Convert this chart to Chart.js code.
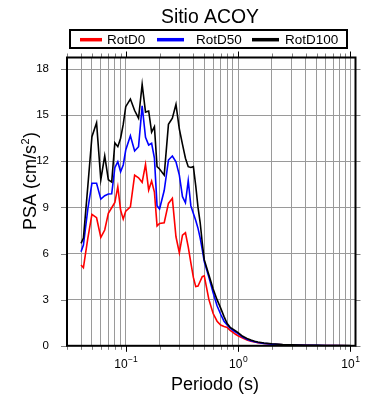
<!DOCTYPE html>
<html><head><meta charset="utf-8">
<script src="https://cdn.jsdelivr.net/npm/chart.js@4.4.1/dist/chart.umd.min.js"></script>
<style>html,body{margin:0;padding:0;background:#fff}canvas{display:block}</style>
</head><body>
<canvas id="c" width="390" height="400"></canvas>
<script>
// ---------- data ----------
const chartTitle = 'Sitio ACOY';
const xAxisTitle = 'Periodo (s)';
const yAxisTitleParts = ['PSA (cm/s', '2', ')'];
const seriesLabels = ['RotD0', 'RotD50', 'RotD100'];
const seriesColors = ['#ff0000', '#0000ff', '#000000'];

const periods = [0.04, 0.042, 0.046, 0.05, 0.055, 0.06, 0.065, 0.07, 0.075, 0.08, 0.085, 0.09, 0.095, 0.1,
  0.11, 0.12, 0.13, 0.14, 0.15, 0.16, 0.17, 0.18, 0.19, 0.2, 0.22, 0.24, 0.26, 0.28, 0.3, 0.32, 0.34, 0.36,
  0.38, 0.4, 0.42, 0.44, 0.46, 0.48, 0.5, 0.55, 0.6, 0.65, 0.7, 0.75, 0.8, 0.85, 0.9, 0.95, 1.0, 1.1, 1.2,
  1.3, 1.4, 1.5, 1.7, 2.0, 2.5, 3.0, 4.0, 5.0, 6.0, 7.5, 10.0];

const rotD0 = [5.25, 5.08, 7.0, 8.55, 8.33, 7.05, 7.53, 8.61, 8.98, 9.33, 10.35, 8.83, 8.24, 8.76,
  9.04, 11.1, 10.93, 10.63, 11.8, 10.13, 10.71, 10.0, 7.8, 7.96, 8.0, 9.26, 9.59, 7.09, 6.05, 7.2, 7.35, 6.44,
  5.4, 4.45, 3.85, 3.88, 4.2, 4.5, 4.55, 3.0, 2.1, 1.6, 1.35, 1.25, 1.2, 1.0, 0.88, 0.75, 0.65, 0.5, 0.38,
  0.3, 0.25, 0.2, 0.15, 0.1, 0.065, 0.045, 0.03, 0.02, 0.015, 0.01, 0.007];

const rotD50 = [6.12, 6.55, 8.9, 10.57, 10.57, 9.54, 9.76, 9.87, 9.89, 11.58, 11.97, 11.32, 11.76, 12.73,
  13.66, 12.67, 12.95, 15.6, 13.56, 13.06, 13.17, 12.2, 9.1, 8.9, 10.1, 12.08, 12.34, 11.97, 11.1, 9.7, 9.3, 10.74,
  9.1, 8.6, 8.15, 7.64, 7.0, 6.25, 5.47, 4.45, 3.45, 2.6, 2.05, 1.6, 1.35, 1.15, 1.0, 0.9, 0.8, 0.56, 0.42,
  0.33, 0.27, 0.22, 0.16, 0.11, 0.07, 0.05, 0.035, 0.025, 0.02, 0.012, 0.008];

const rotD100 = [6.66, 7.0, 10.4, 13.6, 14.5, 10.8, 12.35, 10.8, 10.65, 13.2, 12.95, 13.5, 14.4, 15.55,
  16.05, 15.3, 14.8, 17.0, 15.2, 15.27, 13.9, 14.25, 11.65, 11.5, 11.1, 14.4, 14.8, 15.7, 14.1, 13.1, 12.2, 11.65,
  11.6, 11.65, 10.4, 9.0, 8.0, 6.7, 5.6, 4.6, 3.7, 3.0, 2.45, 1.9, 1.45, 1.2, 1.08, 0.97, 0.85, 0.62, 0.47,
  0.37, 0.3, 0.25, 0.18, 0.13, 0.08, 0.06, 0.04, 0.03, 0.02, 0.015, 0.01];

const xMin = 0.03, xMax = 11.1;
const yMin = 0, yMax = 18.75;
const xGridValues = [0.03, 0.04, 0.05, 0.06, 0.07, 0.08, 0.09, 0.1, 0.2, 0.3, 0.4, 0.5, 0.6, 0.7, 0.8, 0.9,
  1, 2, 3, 4, 5, 6, 7, 8, 9, 10];
const xMajorValues = [0.1, 1, 10];
const xTickBase = ['10', '10', '10'];
const xTickExp = ['\u22121', '0', '1'];
const yTickValues = [0, 3, 6, 9, 12, 15, 18];

// ---------- layout / style ----------
const FONT = '"Liberation Sans", Arial, Helvetica, sans-serif';
const GRID = '#9a9a9a';
const legendLayout = { box: [70, 30, 277, 18], lineX: [80, 157, 252], lineLen: [22, 27, 27], textX: [107, 196, 285], lineY: 39.7, textY: 44 };

const seriesValues = [rotD0, rotD50, rotD100];
const datasets = seriesLabels.map((lab, i) => ({
  label: lab,
  data: periods.map((p, j) => ({ x: p, y: seriesValues[i][j] })),
  borderColor: seriesColors[i],
  backgroundColor: seriesColors[i],
  borderWidth: 1.6,
  pointRadius: 0,
  tension: 0,
  fill: false
})).reverse(); // draw black first, red on top

const framePlugin = {
  id: 'frame',
  afterDraw(chart) {
    const { ctx, chartArea: a, scales: { x, y } } = chart;
    ctx.save();
    ctx.lineWidth = 1;
    // x ticks (outside, top & bottom)
    xGridValues.forEach(v => {
      const px = Math.round(x.getPixelForValue(v)) + 0.5;
      const major = xMajorValues.includes(v);
      const len = major ? 6 : 4;
      ctx.strokeStyle = major ? '#000' : '#808080';
      ctx.beginPath();
      ctx.moveTo(px, a.bottom); ctx.lineTo(px, a.bottom + len);
      ctx.moveTo(px, a.top); ctx.lineTo(px, a.top - len);
      ctx.stroke();
    });
    // y ticks (outside, left & right)
    ctx.strokeStyle = '#808080';
    yTickValues.forEach(v => {
      const py = Math.round(y.getPixelForValue(v)) + 0.5;
      ctx.beginPath();
      ctx.moveTo(a.left - 6, py); ctx.lineTo(a.left, py);
      ctx.moveTo(a.right, py); ctx.lineTo(a.right + 5, py);
      ctx.stroke();
    });
    // frame
    ctx.strokeStyle = '#000';
    ctx.lineWidth = 2;
    ctx.strokeRect(a.left, a.top, a.right - a.left, a.bottom - a.top);

    // x tick labels with superscript exponent
    ctx.fillStyle = '#000';
    ctx.textBaseline = 'alphabetic';
    ctx.textAlign = 'left';
    xMajorValues.forEach((v, i) => {
      const px = x.getPixelForValue(v);
      ctx.font = '12px ' + FONT;
      const wb = ctx.measureText(xTickBase[i]).width;
      ctx.font = '8.5px ' + FONT;
      const we = ctx.measureText(xTickExp[i]).width;
      const start = px - (wb + we) / 2;
      ctx.font = '12px ' + FONT;
      ctx.fillText(xTickBase[i], start, 367.5);
      ctx.font = '8.5px ' + FONT;
      ctx.fillText(xTickExp[i], start + wb + 0.5, 362);
    });

    // chart title
    ctx.font = '19.4px ' + FONT;
    ctx.textAlign = 'center';
    ctx.fillText(chartTitle, 210, 22.5);

    // x axis title
    ctx.font = '18px ' + FONT;
    ctx.fillText(xAxisTitle, 215, 389.5);

    // y axis title (rotated)
    ctx.save();
    ctx.translate(35.5, 181.5);
    ctx.rotate(-Math.PI / 2);
    ctx.textAlign = 'left';
    ctx.font = '18px ' + FONT;
    const w0 = ctx.measureText(yAxisTitleParts[0]).width;
    const w2 = ctx.measureText(yAxisTitleParts[2]).width;
    ctx.font = '11px ' + FONT;
    const w1 = ctx.measureText(yAxisTitleParts[1]).width;
    let sx = -(w0 + w1 + w2) / 2;
    ctx.font = '18px ' + FONT;
    ctx.fillText(yAxisTitleParts[0], sx, 0);
    ctx.font = '11px ' + FONT;
    ctx.fillText(yAxisTitleParts[1], sx + w0 + 0.5, -7);
    ctx.font = '18px ' + FONT;
    ctx.fillText(yAxisTitleParts[2], sx + w0 + w1 + 1, 0);
    ctx.restore();

    // legend
    const L = legendLayout;
    ctx.lineWidth = 2;
    ctx.strokeStyle = '#000';
    ctx.strokeRect(L.box[0], L.box[1], L.box[2], L.box[3]);
    ctx.font = '13.5px ' + FONT;
    ctx.textAlign = 'left';
    seriesLabels.forEach((lab, i) => {
      ctx.strokeStyle = seriesColors[i];
      ctx.lineWidth = 3.5;
      ctx.beginPath();
      ctx.moveTo(L.lineX[i], L.lineY);
      ctx.lineTo(L.lineX[i] + L.lineLen[i], L.lineY);
      ctx.stroke();
      ctx.fillStyle = '#000';
      ctx.fillText(lab, L.textX[i], L.textY);
    });
    ctx.restore();
  }
};

new Chart(document.getElementById('c'), {
  type: 'line',
  data: { datasets },
  options: {
    responsive: false,
    animation: false,
    devicePixelRatio: 1,
    layout: { padding: { top: 57.5, right: 34.5, bottom: 0, left: 0 } },
    plugins: { legend: { display: false }, title: { display: false }, tooltip: { enabled: false } },
    scales: {
      x: {
        type: 'logarithmic',
        min: xMin, max: xMax,
        afterBuildTicks: s => { s.ticks = xGridValues.map(v => ({ value: v })); },
        afterFit: s => { s.height = 54.2; },
        ticks: { display: false },
        grid: { color: GRID, lineWidth: 1, drawTicks: false },
        border: { display: false }
      },
      y: {
        type: 'linear',
        min: yMin, max: yMax,
        afterBuildTicks: s => { s.ticks = yTickValues.map(v => ({ value: v })); },
        afterFit: s => { s.width = 67; },
        ticks: { color: '#000', padding: 18, font: { family: FONT, size: 11.5 } },
        grid: { color: GRID, lineWidth: 1, drawTicks: false },
        border: { display: false }
      }
    }
  },
  plugins: [framePlugin]
});
</script>
</body></html>
